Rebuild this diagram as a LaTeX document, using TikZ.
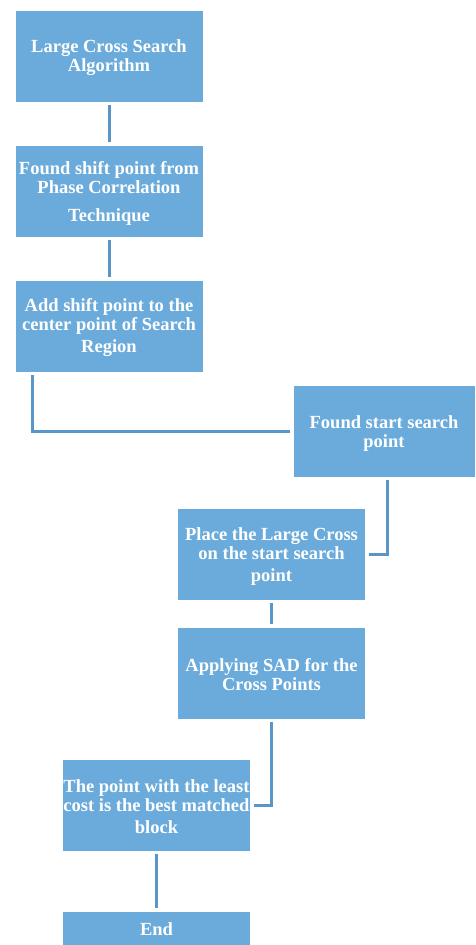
\documentclass[tikz,border=0pt]{standalone}
\usepackage{fontspec}
\setmainfont{Liberation Serif}
\definecolor{boxfill}{HTML}{6BABDB}
\definecolor{linkcol}{HTML}{5A95C8}
\begin{document}
\begin{tikzpicture}[x=1pt,y=-1pt,
  box/.style={draw=white, line width=0.6pt, fill=boxfill, text=white, align=center,
    minimum width=188pt, minimum height=92pt, inner sep=0pt,
    font=\fontsize{18.5}{19}\selectfont\bfseries},
  link/.style={draw=linkcol, line width=3pt, shorten <=3pt, shorten >=3pt}]
\useasboundingbox (0,0) rectangle (475,945);
\node[box] (b1) at (109,56) {\rule{0pt}{17pt}Large Cross Search\\Algorithm};
\node[box] (b2) at (109,191) {\rule{0pt}{17pt}Found shift point from\\Phase Correlation\\[9pt]Technique};
\node[box] (b3) at (109,326) {\rule{0pt}{17pt}Add shift point to the\\center point of Search\\[3pt]Region};
\node[box, minimum width=182pt] (b4) at (384,431) {\rule{0pt}{17pt}Found start search\\point};
\node[box] (b5) at (271.5,554) {\rule{0pt}{17pt}Place the Large Cross\\on the start search\\[3pt]point};
\node[box] (b6) at (271.5,673) {\rule{0pt}{17pt}Applying SAD for the\\Cross Points};
\node[box] (b7) at (156.5,805) {\rule{0pt}{17pt}The point with the least\\cost is the best matched\\[3pt]block};
\node[box, minimum height=36pt] (b8) at (156.5,929) {End};
\draw[link] (b1) -- (b2);
\draw[link] (b2) -- (b3);
\draw[link] ([xshift=18pt]b3.south west) |- (b4.west);
\draw[link] ([xshift=3pt]b4.south) |- (b5.east);
\draw[link] (b5) -- (b6);
\draw[link] (b6.south) |- (b7.east);
\draw[link] (b7) -- (b8);
\end{tikzpicture}
\end{document}
